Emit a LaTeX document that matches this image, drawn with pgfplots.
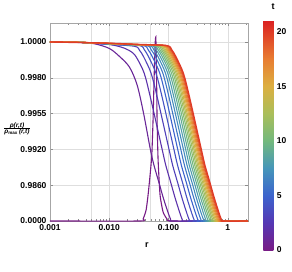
\documentclass[border=0pt]{standalone}
\usepackage{pgfplots}
\pgfplotsset{compat=1.18}
\usepackage{fontspec}
\setmainfont{Liberation Sans}
\pgfplotsset{
  colormap={mrainbow}{rgb255(0pt)=(120,28,134); rgb255(2.5pt)=(85,55,180); rgb255(5pt)=(60,100,205); rgb255(7.5pt)=(70,150,185); rgb255(10pt)=(115,185,125); rgb255(12.5pt)=(170,190,90); rgb255(15pt)=(220,175,65); rgb255(17.5pt)=(232,125,50); rgb255(21pt)=(219,33,34)}
}
\begin{document}
\begin{tikzpicture}
\path[use as bounding box] (-50pt,-50pt) rectangle (242pt,221pt);
\begin{axis}[
  at={(0pt,0pt)}, anchor=south west,
  scale only axis, width=198pt, height=198pt,
  xmin=-3, xmax=0.341, ymin=0, ymax=5.53,
  xtick={-3,-2,-1,0}, xticklabels={0.001,0.010,0.100,1},
  minor xtick={-2.699,-2.523,-2.398,-2.222,-2.155,-2.097,-2.046,-1.699,-1.523,-1.398,-1.222,-1.155,-1.097,-1.046,-0.699,-0.523,-0.398,-0.222,-0.155,-0.097,-0.046,0.301},
  extra x ticks={-2.30103,-1.30103,-0.30103}, extra x tick labels={},
  extra x tick style={grid=major, major tick length=1.8pt},
  ytick={0,1,2,3,4,5}, yticklabels={0.0000,0.9860,0.9920,0.9955,0.9980,1.0000},
  xmajorgrids, ymajorgrids,
  grid style={black!13, line width=0.5pt},
  axis line style={black!35},
  tick style={black!45},
  tick align=inside,
  major tick length=3pt, minor tick length=1.8pt,
  ticklabel style={font=\bfseries\fontsize{8.5}{10}\selectfont},
  colormap name=mrainbow,
  point meta min=0, point meta max=21,
  colorbar,
  colorbar style={
    at={(parent axis.north east)}, anchor=north west, xshift=6.8pt, yshift=2.3pt,
    scale only axis, width=10pt, height=229.3pt,
    ytick={0,5,10,15,20}, yticklabels={0,5,10,15,20},
    yticklabel style={font=\bfseries\fontsize{8.5}{10}\selectfont},
    axis line style={draw=none}, major tick length=0pt, minor tick length=0pt,
  },
  every axis plot/.append style={line width=1.1pt, no marks},
]
% t = 0
\addplot[color of colormap={0}, smooth, tension=0.3] coordinates {(-3,0) (-1.479,0) (-1.429,0.056) (-1.378,0.307) (-1.345,0.726) (-1.311,1.285) (-1.282,1.844) (-1.261,2.821) (-1.244,3.939) (-1.227,4.916) (-1.215,5.14) (-1.205,4.497) (-1.193,2.821) (-1.176,1.704) (-1.143,0.726) (-1.092,0.251) (-1.025,0.056) (-0.941,0) (0.341,0)};
% t = 1
\addplot[color of colormap={47.6}, smooth] coordinates {(-3,5.00) (-2.5,4.985) (-2.25,4.95) (-2.0,4.82) (-1.83,4.6) (-1.66,4.3) (-1.53,3.8) (-1.42,3.0) (-1.308,2.01) (-1.246,1.56) (-1.159,1.06) (-1.078,0.59) (-0.965,0.05) (-0.90,0) (0.341,0)};
% t = 2
\addplot[color of colormap={95.2}, smooth] coordinates {(-3,5.00) (-2.5,4.99) (-2.0,4.93) (-1.75,4.83) (-1.606,4.70) (-1.534,4.55) (-1.411,4.13) (-1.307,3.46) (-1.109,2.01) (-1.047,1.56) (-0.960,1.06) (-0.879,0.59) (-0.766,0.03) (-0.710,0) (0.341,0)};
% t = 3
\addplot[color of colormap={142.9}, smooth] coordinates {(-3,5.00) (-2.5,4.99) (-2.044,4.94) (-1.574,4.88) (-1.490,4.77) (-1.418,4.58) (-1.295,4.13) (-1.191,3.46) (-0.993,2.01) (-0.931,1.56) (-0.844,1.06) (-0.763,0.59) (-0.650,0.03) (-0.594,0) (0.341,0)};
% t = 4
\addplot[color of colormap={190.5}, smooth] coordinates {(-3,5.00) (-2.5,4.99) (-1.961,4.93) (-1.491,4.90) (-1.407,4.78) (-1.335,4.58) (-1.212,4.13) (-1.108,3.46) (-0.910,2.01) (-0.848,1.56) (-0.761,1.06) (-0.680,0.59) (-0.567,0.03) (-0.511,0) (0.341,0)};
% t = 5
\addplot[color of colormap={238.1}, smooth] coordinates {(-3,5.00) (-2.5,4.99) (-1.897,4.93) (-1.427,4.90) (-1.343,4.78) (-1.271,4.58) (-1.148,4.13) (-1.044,3.46) (-0.846,2.01) (-0.784,1.56) (-0.697,1.06) (-0.616,0.59) (-0.503,0.03) (-0.447,0) (0.341,0)};
% t = 6
\addplot[color of colormap={285.7}, smooth] coordinates {(-3,5.00) (-2.5,4.99) (-1.845,4.93) (-1.375,4.90) (-1.291,4.78) (-1.219,4.58) (-1.096,4.13) (-0.992,3.46) (-0.794,2.01) (-0.732,1.56) (-0.645,1.06) (-0.564,0.59) (-0.451,0.03) (-0.395,0) (0.341,0)};
% t = 7
\addplot[color of colormap={333.3}, smooth] coordinates {(-3,5.00) (-2.5,4.99) (-1.801,4.93) (-1.331,4.90) (-1.247,4.78) (-1.175,4.58) (-1.052,4.13) (-0.948,3.46) (-0.750,2.01) (-0.688,1.56) (-0.601,1.06) (-0.520,0.59) (-0.407,0.03) (-0.351,0) (0.341,0)};
% t = 8
\addplot[color of colormap={381.0}, smooth] coordinates {(-3,5.00) (-2.5,4.99) (-1.763,4.93) (-1.293,4.90) (-1.209,4.78) (-1.137,4.58) (-1.014,4.13) (-0.910,3.46) (-0.712,2.01) (-0.650,1.56) (-0.563,1.06) (-0.482,0.59) (-0.369,0.03) (-0.313,0) (0.341,0)};
% t = 9
\addplot[color of colormap={428.6}, smooth] coordinates {(-3,5.00) (-2.5,4.99) (-1.729,4.93) (-1.259,4.90) (-1.175,4.78) (-1.103,4.58) (-0.980,4.13) (-0.876,3.46) (-0.678,2.01) (-0.616,1.56) (-0.529,1.06) (-0.448,0.59) (-0.335,0.03) (-0.279,0) (0.341,0)};
% t = 10
\addplot[color of colormap={476.2}, smooth] coordinates {(-3,5.00) (-2.5,4.99) (-1.699,4.93) (-1.229,4.90) (-1.145,4.78) (-1.073,4.58) (-0.950,4.13) (-0.846,3.46) (-0.648,2.01) (-0.586,1.56) (-0.499,1.06) (-0.418,0.59) (-0.305,0.03) (-0.249,0) (0.341,0)};
% t = 11
\addplot[color of colormap={523.8}, smooth] coordinates {(-3,5.00) (-2.5,4.99) (-1.671,4.93) (-1.201,4.90) (-1.117,4.78) (-1.045,4.58) (-0.922,4.13) (-0.818,3.46) (-0.620,2.01) (-0.558,1.56) (-0.471,1.06) (-0.390,0.59) (-0.277,0.03) (-0.221,0) (0.341,0)};
% t = 12
\addplot[color of colormap={571.4}, smooth] coordinates {(-3,5.00) (-2.5,4.99) (-1.646,4.93) (-1.176,4.90) (-1.092,4.78) (-1.020,4.58) (-0.897,4.13) (-0.793,3.46) (-0.595,2.01) (-0.533,1.56) (-0.446,1.06) (-0.365,0.59) (-0.252,0.03) (-0.196,0) (0.341,0)};
% t = 13
\addplot[color of colormap={619.0}, smooth] coordinates {(-3,5.00) (-2.5,4.99) (-1.623,4.93) (-1.153,4.90) (-1.069,4.78) (-0.997,4.58) (-0.874,4.13) (-0.770,3.46) (-0.572,2.01) (-0.510,1.56) (-0.423,1.06) (-0.342,0.59) (-0.229,0.03) (-0.173,0) (0.341,0)};
% t = 14
\addplot[color of colormap={666.7}, smooth] coordinates {(-3,5.00) (-2.5,4.99) (-1.602,4.93) (-1.132,4.90) (-1.048,4.78) (-0.976,4.58) (-0.853,4.13) (-0.749,3.46) (-0.551,2.01) (-0.489,1.56) (-0.402,1.06) (-0.321,0.59) (-0.208,0.03) (-0.152,0) (0.341,0)};
% t = 15
\addplot[color of colormap={714.3}, smooth] coordinates {(-3,5.00) (-2.5,4.99) (-1.582,4.93) (-1.112,4.90) (-1.028,4.78) (-0.956,4.58) (-0.833,4.13) (-0.729,3.46) (-0.531,2.01) (-0.469,1.56) (-0.382,1.06) (-0.301,0.59) (-0.188,0.03) (-0.132,0) (0.341,0)};
% t = 16
\addplot[color of colormap={761.9}, smooth] coordinates {(-3,5.00) (-2.5,4.99) (-1.564,4.93) (-1.094,4.90) (-1.010,4.78) (-0.938,4.58) (-0.815,4.13) (-0.711,3.46) (-0.513,2.01) (-0.451,1.56) (-0.364,1.06) (-0.283,0.59) (-0.170,0.03) (-0.114,0) (0.341,0)};
% t = 17
\addplot[color of colormap={809.5}, smooth] coordinates {(-3,5.00) (-2.5,4.99) (-1.547,4.93) (-1.077,4.90) (-0.993,4.78) (-0.921,4.58) (-0.798,4.13) (-0.694,3.46) (-0.496,2.01) (-0.434,1.56) (-0.347,1.06) (-0.266,0.59) (-0.153,0.03) (-0.097,0) (0.341,0)};
% t = 18
\addplot[color of colormap={857.1}, smooth] coordinates {(-3,5.00) (-2.5,4.99) (-1.530,4.93) (-1.060,4.90) (-0.976,4.78) (-0.904,4.58) (-0.781,4.13) (-0.677,3.46) (-0.479,2.01) (-0.417,1.56) (-0.330,1.06) (-0.249,0.59) (-0.136,0.03) (-0.080,0) (0.341,0)};
% t = 19
\addplot[color of colormap={904.8}, smooth] coordinates {(-3,5.00) (-2.5,4.99) (-1.515,4.93) (-1.045,4.90) (-0.961,4.78) (-0.889,4.58) (-0.766,4.13) (-0.662,3.46) (-0.464,2.01) (-0.402,1.56) (-0.315,1.06) (-0.234,0.59) (-0.121,0.03) (-0.065,0) (0.341,0)};
% t = 20
\addplot[color of colormap={952.4}, smooth, line width=1.4pt] coordinates {(-3,5.00) (-2.5,4.985) (-2.0,4.965) (-1.500,4.93) (-1.030,4.90) (-0.946,4.78) (-0.874,4.58) (-0.751,4.13) (-0.647,3.46) (-0.449,2.01) (-0.387,1.56) (-0.300,1.06) (-0.219,0.59) (-0.106,0.03) (-0.050,0) (0.341,0)};
\end{axis}
\node[font=\bfseries\itshape\fontsize{6.5}{7}\selectfont, inner sep=0pt] at (-33pt,92pt) {\begin{tabular}{@{}c@{}}ρ(r,t)\\[-1pt]\hline ρ\textsubscript{\upshape max}\,(r,t)\end{tabular}};
\node[font=\bfseries\fontsize{9}{10}\selectfont] at (97pt,-24pt) {r};
\node[font=\bfseries\fontsize{9}{10}\selectfont] at (223pt,214pt) {t};
\end{tikzpicture}
\end{document}
